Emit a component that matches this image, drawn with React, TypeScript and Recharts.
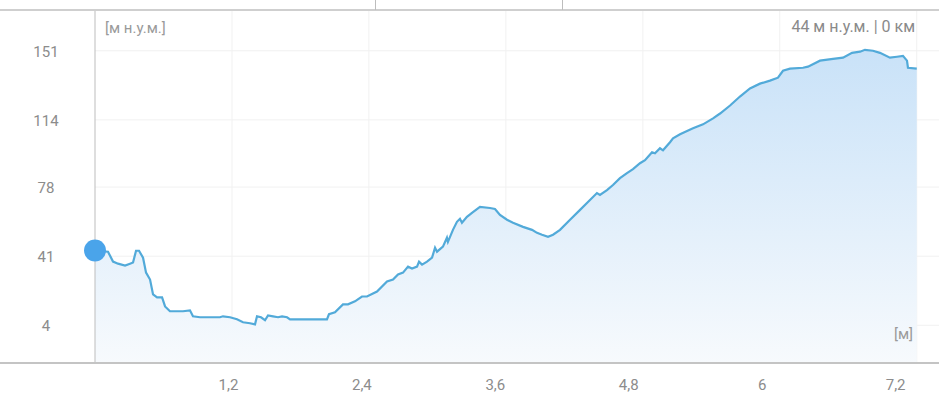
import { AreaChart, Area, XAxis, YAxis, CartesianGrid, ReferenceDot } from "recharts";

// distance along route, km
const distanceKm = [
  0, 0.117, 0.162, 0.207, 0.27, 0.315, 0.342, 0.369, 0.396, 0.432, 0.459, 0.495, 0.522, 0.558, 0.603,
  0.63, 0.674, 0.719, 0.791, 0.854, 0.881, 0.944, 1.034, 1.124, 1.151, 1.214, 1.277, 1.331, 1.394, 1.439,
  1.457, 1.493, 1.529, 1.556, 1.601, 1.646, 1.682, 1.727, 1.754, 2.086, 2.104, 2.158, 2.23, 2.275, 2.338,
  2.401, 2.446, 2.536, 2.626, 2.68, 2.725, 2.77, 2.815, 2.851, 2.896, 2.914, 2.941, 2.986, 3.031, 3.058,
  3.076, 3.129, 3.165, 3.174, 3.219, 3.255, 3.282, 3.3, 3.345, 3.39, 3.462, 3.552, 3.597, 3.642, 3.705,
  3.759, 3.849, 3.93, 3.975, 4.02, 4.074, 4.119, 4.182, 4.272, 4.362, 4.424, 4.514, 4.541, 4.604, 4.658,
  4.721, 4.784, 4.838, 4.901, 4.946, 5.009, 5.036, 5.081, 5.108, 5.171, 5.198, 5.261, 5.378, 5.468, 5.558,
  5.621, 5.711, 5.8, 5.89, 5.98, 6.07, 6.142, 6.187, 6.25, 6.367, 6.412, 6.52, 6.637, 6.727, 6.808,
  6.88, 6.924, 6.996, 7.059, 7.149, 7.212, 7.266, 7.302, 7.311, 7.39,
];

// elevation, m a.s.l.
const elevation = [
  44, 43.4, 38.1, 37.0, 36.0, 37.0, 37.6, 43.9, 43.9, 40.2, 32.2, 28.5, 20.5, 18.9, 18.9,
  14.1, 11.5, 11.5, 11.5, 12.0, 8.8, 8.3, 8.3, 8.3, 8.8, 8.3, 7.2, 5.6, 5.1, 4.5,
  8.8, 8.3, 6.7, 9.3, 8.8, 8.3, 8.8, 8.3, 7.2, 7.2, 9.9, 10.9, 15.2, 15.2, 16.8,
  19.4, 19.4, 22.1, 27.4, 28.5, 31.2, 32.2, 35.4, 34.4, 35.4, 38.1, 36.5, 38.1, 40.2, 45.5,
  43.4, 46.1, 50.9, 48.7, 55.1, 59.4, 61.0, 58.9, 62.1, 64.2, 67.4, 66.8, 66.3, 63.1, 60.5,
  58.9, 56.7, 55.1, 53.5, 52.5, 51.4, 52.5, 55.1, 60.5, 65.8, 69.5, 74.8, 73.8, 76.4, 79.1,
  82.8, 85.5, 87.6, 90.8, 92.4, 96.7, 96.1, 98.8, 97.7, 102.0, 104.1, 106.3, 109.5, 111.6, 114.8,
  117.4, 121.7, 126.5, 130.8, 133.4, 135.0, 136.6, 140.3, 141.4, 141.9, 142.5, 145.7, 146.7, 147.3, 149.9,
  150.5, 151.5, 151.0, 149.9, 147.3, 147.8, 148.3, 145.7, 141.9, 141.4,
];

const xTicks = [1.2, 2.4, 3.6, 4.8, 6, 7.2];
const yTicks = [4, 41, 78, 114, 151];
const xGrid = [1.232, 2.463, 3.695, 4.927, 6.158, 7.39];
const yDomain = [-16.2, 172.3];

const data = distanceKm.map((d, i) => ({ d, h: elevation[i] }));

const textColor = "#8c8c8c";
const font = "Roboto, 'Noto Sans', sans-serif";

const YTick = ({ y, payload }: any) => (
  <text x={46} y={y} dy={6} textAnchor="middle" fill={textColor} fontSize={15} fontFamily={font}>
    {payload.value}
  </text>
);

export default function App() {
  return (
    <div
      style={{
        position: "absolute",
        top: 0,
        left: 0,
        width: 939,
        height: 400,
        background: "#fff",
        fontFamily: font,
        overflow: "hidden",
      }}
    >
      {/* header strip */}
      <div style={{ position: "absolute", top: 9, left: 0, width: 939, height: 2, background: "#cfcfcf" }} />
      <div style={{ position: "absolute", top: 0, left: 375, width: 1, height: 10, background: "#bdbdbd" }} />
      <div style={{ position: "absolute", top: 0, left: 562, width: 1, height: 10, background: "#bdbdbd" }} />

      <AreaChart width={939} height={400} data={data} margin={{ top: 11, right: 0, bottom: 0, left: 0 }}>
        <defs>
          <linearGradient id="elevFill" x1="0" y1="0" x2="0" y2="1">
            <stop offset="0%" stopColor="#c9e2f8" />
            <stop offset="100%" stopColor="#f7fafd" />
          </linearGradient>
        </defs>
        <CartesianGrid stroke="#f1f1f1" horizontalValues={yTicks} verticalValues={xGrid} />
        <XAxis
          type="number"
          dataKey="d"
          domain={[0, 7.59]}
          ticks={xTicks}
          tickFormatter={(v: number) => String(v).replace(".", ",")}
          axisLine={false}
          tickLine={false}
          tickMargin={10}
          height={37}
          tick={{ fill: textColor, fontSize: 15, fontFamily: font }}
        />
        <YAxis
          type="number"
          domain={yDomain}
          ticks={yTicks}
          width={95}
          axisLine={{ stroke: "#bdbdbd" }}
          tickLine={false}
          tick={<YTick />}
        />
        <Area
          type="linear"
          dataKey="h"
          baseValue={yDomain[0]}
          stroke="#52aad9"
          strokeWidth={2.2}
          fill="url(#elevFill)"
          fillOpacity={1}
          dot={false}
          activeDot={false}
          isAnimationActive={false}
        />
        <ReferenceDot
          x={distanceKm[0]}
          y={elevation[0]}
          r={11}
          fill="#4aa4ea"
          stroke="none"
          ifOverflow="visible"
        />
      </AreaChart>

      {/* bottom axis line spans the full width */}
      <div style={{ position: "absolute", top: 362, left: 0, width: 939, height: 1.5, background: "#c4c4c4" }} />

      <div style={{ position: "absolute", top: 19, left: 105, fontSize: 15, color: "#9a9a9a" }}>[м н.у.м.]</div>
      <div style={{ position: "absolute", top: 17, right: 24, fontSize: 16, color: "#8a8a8a" }}>
        44 м н.у.м. | 0 км
      </div>
      <div style={{ position: "absolute", top: 325, right: 26, fontSize: 15, color: "#9a9a9a" }}>[м]</div>
    </div>
  );
}
